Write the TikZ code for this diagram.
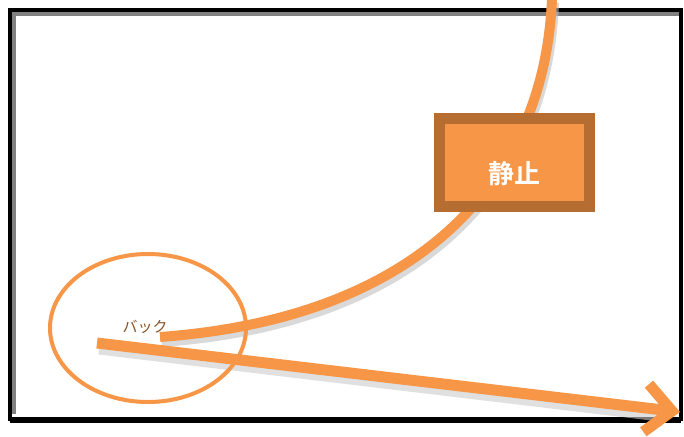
\documentclass[tikz,border=0pt]{standalone}
\usepackage{fontspec}
\newfontfamily\jp{Noto Sans CJK JP}
\newfontfamily\jpb{Noto Sans CJK JP Bold}
\usetikzlibrary{arrows.meta,shapes.geometric}
\definecolor{orng}{HTML}{F79646}
\definecolor{orngdark}{HTML}{B66D31}
\begin{document}
\begin{tikzpicture}[x=1pt,y=-1pt,
  thickline/.style={orng,line width=10pt},
  shadowline/.style={black!25,line width=10pt,opacity=0.6},
  labelbox/.style={draw=orngdark,line width=11pt,fill=orng,minimum width=150pt,minimum height=88pt,inner sep=0pt,text=white,font=\jpb\fontsize{26}{28}\selectfont,text height=42pt,text depth=0pt},
  ring/.style={draw=orng,line width=4pt,ellipse},
  smalltext/.style={text=orngdark!75!black,font=\jp\fontsize{15}{16}\selectfont,inner sep=0pt}]
\useasboundingbox (0,0) rectangle (684,436);
% frame
\draw[black!50,line width=4pt] (14,414) -- (14,14) -- (679,14);
\draw[black,line width=4pt] (10,10) rectangle (681,419);
\draw[black,line width=4pt] (10,421) -- (681,421);
% coordinates
\coordinate (cs) at (160,337);
\coordinate (ce) at (552,-2);
\coordinate (as) at (97,343);
\coordinate (ae) at (680,412);
% curve shadow and curve
\draw[shadowline] ([shift={(2,5)}]cs) .. controls (422,323) and (547,185) .. ([shift={(2,5)}]ce);
\draw[thickline] (cs) .. controls (420,318) and (545,180) .. (ce);
% arrow shadow and arrow
\draw[black!20,line width=11pt,opacity=0.6] ([shift={(2,6)}]as) -- ([shift={(-20,4)}]ae);
\draw[orng,line width=11pt,-{Straight Barb[length=26pt 0,width=48pt 0]}] (as) -- (ae);
% ellipse
\node[ring,minimum width=196pt,minimum height=148pt] (el) at (148,328) {};
% small text
\node[smalltext] (bt) at (145,327) {バック};
% box
\node[labelbox] (stop) at (514,162) {静止};
\end{tikzpicture}
\end{document}
